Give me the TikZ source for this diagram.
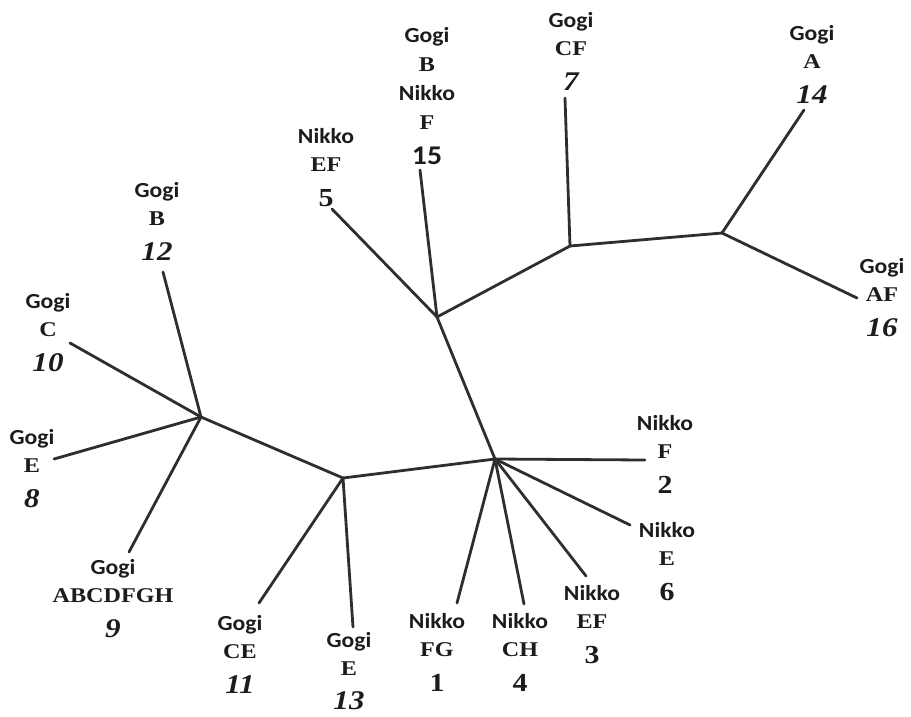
\documentclass[tikz,border=0pt]{standalone}
\usepackage{fontspec}
\usepackage{tikz}
\newfontfamily\tagsans{Carlito}[FakeStretch=1.1]
\newfontfamily\tagserif{Liberation Serif}[FakeStretch=1.15]
\newcommand{\pop}[1]{{\tagsans\bfseries\fontsize{21.5}{24}\selectfont #1}}
\newcommand{\hap}[1]{{\tagserif\bfseries\fontsize{21}{24}\selectfont #1}}
\newcommand{\gnum}[1]{{\tagserif\bfseries\itshape\fontsize{27}{30}\selectfont #1}}
\newcommand{\nnum}[1]{{\tagserif\bfseries\fontsize{26}{30}\selectfont #1}}
\newcommand{\snum}[1]{{\tagsans\bfseries\fontsize{27}{30}\selectfont #1}}
\definecolor{ink}{HTML}{1C1C1C}
\definecolor{twig}{HTML}{2E2E2E}

\begin{document}
\begin{tikzpicture}
    [x=1pt, y=-1pt,
     leaf/.style={anchor=north, align=center, inner sep=0pt, text=ink,
                  font=\fontsize{20}{28}\selectfont},
     branch/.style={draw=twig, line width=2.8pt, line cap=round}]
    \useasboundingbox (0,0) rectangle (911,716);

    % inner junctions
    \coordinate (jA) at (437,317);
    \coordinate (jB) at (570,246);
    \coordinate (jC) at (722,233);
    \coordinate (jD) at (495,459);
    \coordinate (jE) at (343,478);
    \coordinate (jF) at (201,417);

    % tips
    \coordinate (t5) at (332,209);
    \coordinate (t15) at (420,170);
    \coordinate (t7) at (565,98);
    \coordinate (t14) at (804,110);
    \coordinate (t16) at (857,298);
    \coordinate (t2) at (645,460);
    \coordinate (t6) at (630,525);
    \coordinate (t3) at (586,576);
    \coordinate (t4) at (524,604);
    \coordinate (t1) at (457,603);
    \coordinate (t13) at (353,627);
    \coordinate (t11) at (259,603);
    \coordinate (t9) at (129,552);
    \coordinate (t8) at (54,459);
    \coordinate (t10) at (70,343);
    \coordinate (t12) at (163,272);

    \draw[branch] (jA) -- (t5);
    \draw[branch] (jA) -- (t15);
    \draw[branch] (jA) -- (jB);
    \draw[branch] (jB) -- (t7);
    \draw[branch] (jB) -- (jC);
    \draw[branch] (jC) -- (t14);
    \draw[branch] (jC) -- (t16);
    \draw[branch] (jA) -- (jD);
    \draw[branch] (jD) -- (t2);
    \draw[branch] (jD) -- (t6);
    \draw[branch] (jD) -- (t3);
    \draw[branch] (jD) -- (t4);
    \draw[branch] (jD) -- (t1);
    \draw[branch] (jD) -- (jE);
    \draw[branch] (jE) -- (t13);
    \draw[branch] (jE) -- (t11);
    \draw[branch] (jE) -- (jF);
    \draw[branch] (jF) -- (t9);
    \draw[branch] (jF) -- (t8);
    \draw[branch] (jF) -- (t10);
    \draw[branch] (jF) -- (t12);

    % labels
    \node (l12) [leaf] at (157,182) {\pop{Gogi}\\\hap{B}\\[7pt]\gnum{12}};
    \node (l10) [leaf] at (48,293) {\pop{Gogi}\\\hap{C}\\[7pt]\gnum{10}};
    \node (l8) [leaf] at (32,429) {\pop{Gogi}\\\hap{E}\\[7pt]\gnum{8}};
    \node (l9) [leaf] at (113,559) {\pop{Gogi}\\\hap{ABCDFGH}\\[7pt]\gnum{9}};
    \node (l11) [leaf] at (240,615) {\pop{Gogi}\\\hap{CE}\\[7pt]\gnum{11}};
    \node (l13) [leaf] at (349,632) {\pop{Gogi}\\\hap{E}\\[6pt]\gnum{13}};
    \node (l1) [leaf] at (437,613) {\pop{Nikko}\\\hap{FG}\\[7pt]\nnum{1}};
    \node (l4) [leaf] at (520,613) {\pop{Nikko}\\\hap{CH}\\[7pt]\nnum{4}};
    \node (l3) [leaf] at (592,585) {\pop{Nikko}\\\hap{EF}\\[7pt]\nnum{3}};
    \node (l6) [leaf] at (667,522) {\pop{Nikko}\\\hap{E}\\[7pt]\nnum{6}};
    \node (l2) [leaf] at (665,415) {\pop{Nikko}\\\hap{F}\\[7pt]\nnum{2}};
    \node (l5) [leaf] at (326,128) {\pop{Nikko}\\\hap{EF}\\[7pt]\nnum{5}};
    \node (l15) [leaf, font=\fontsize{20}{29}\selectfont] at (427,27)
        {\pop{Gogi}\\\hap{B}\\\pop{Nikko}\\\hap{F}\\[6pt]\snum{15}};
    \node (l7) [leaf] at (571,12) {\pop{Gogi}\\\hap{CF}\\[7pt]\gnum{7}};
    \node (l14) [leaf] at (812,25) {\pop{Gogi}\\\hap{A}\\[7pt]\gnum{14}};
    \node (l16) [leaf] at (882,258) {\pop{Gogi}\\\hap{AF}\\[7pt]\gnum{16}};

  \end{tikzpicture}
\end{document}
